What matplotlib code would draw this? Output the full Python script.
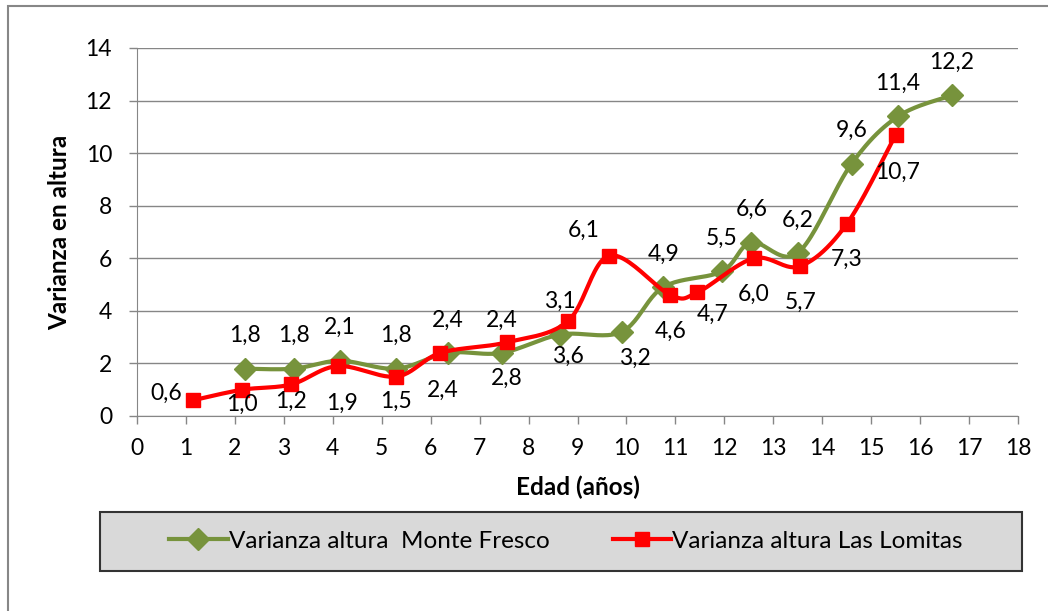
import numpy as np
import matplotlib.pyplot as plt
from matplotlib.lines import Line2D
from matplotlib.patches import Rectangle

plt.rcParams['font.family'] = ['Lato', 'DejaVu Sans']

# Data
edad_mf = [2.2, 3.2, 4.15, 5.3, 6.35, 7.45, 8.65, 9.9, 10.75, 11.95, 12.55, 13.5, 14.6, 15.55, 16.65]
var_mf = [1.8, 1.8, 2.1, 1.8, 2.4, 2.4, 3.1, 3.2, 4.9, 5.5, 6.6, 6.2, 9.6, 11.4, 12.2]
edad_ll = [1.15, 2.15, 3.15, 4.1, 5.3, 6.2, 7.55, 8.8, 9.65, 10.9, 11.45, 12.6, 13.55, 14.5, 15.5]
var_ll = [0.6, 1.0, 1.2, 1.9, 1.5, 2.4, 2.8, 3.6, 6.1, 4.6, 4.7, 6.0, 5.7, 7.3, 10.7]

GREEN = '#77933C'
RED = '#FF0000'
GRID = '#868686'

# label offsets in pixels (dx, dy up)
off_mf = [(0, 33)] * 7 + [(13, -26)] + [(0, 33)] * 7
off_ll = [(-27, 7), (0, -15), (0, -17), (4, -37), (0, -25), (2, -37), (0, -36), (0, -35),
          (-26, 25), (0, -36), (15, -22), (0, -36), (0, -36), (0, -35), (2, -38)]


def smooth(x, y, n=25):
    # Catmull-Rom curve through the points (like Excel's smoothed line)
    pts = np.column_stack([x, y])
    p = np.vstack([pts[0], pts, pts[-1]])
    t = np.linspace(0, 1, n)[:, None]
    segs = []
    for i in range(1, len(p) - 2):
        p0, p1, p2, p3 = p[i - 1], p[i], p[i + 1], p[i + 2]
        segs.append(0.5 * (2 * p1 + (-p0 + p2) * t
                           + (2 * p0 - 5 * p1 + 4 * p2 - p3) * t ** 2
                           + (-p0 + 3 * p1 - 3 * p2 + p3) * t ** 3))
    s = np.vstack(segs)
    return s[:, 0], s[:, 1]


fig = plt.figure(figsize=(10.48, 6.11), dpi=100)
ax = fig.add_axes([137 / 1048, 1 - 416 / 611, (1018 - 137) / 1048, (416 - 48) / 611])

sx, sy = smooth(edad_mf, var_mf)
ax.plot(sx, sy, color=GREEN, lw=3, zorder=3, solid_capstyle='round')
ax.plot(edad_mf, var_mf, ls='none', marker='D', ms=11, color=GREEN, zorder=3)
sx, sy = smooth(edad_ll, var_ll)
ax.plot(sx, sy, color=RED, lw=3, zorder=4, solid_capstyle='round')
ax.plot(edad_ll, var_ll, ls='none', marker='s', ms=10, color=RED, zorder=4)

for xs, ys, offs in [(edad_mf, var_mf, off_mf), (edad_ll, var_ll, off_ll)]:
    for xv, yv, (dx, dy) in zip(xs, ys, offs):
        ax.annotate(f'{yv:.1f}'.replace('.', ','), (xv, yv), xytext=(dx, dy),
                    textcoords='offset pixels', ha='center', va='center',
                    fontsize=16.5, zorder=5)

ax.set_xlim(0, 18)
ax.set_ylim(0, 14)
ax.set_xticks(range(0, 19))
ax.set_yticks(range(0, 15, 2))
ax.tick_params(labelsize=16.5, color=GRID, length=6, width=1)
ax.tick_params(axis='y', pad=12)
ax.tick_params(axis='x', pad=10)
ax.grid(axis='y', color=GRID, lw=1)
ax.set_axisbelow(True)
for s in ['top', 'right']:
    ax.spines[s].set_visible(False)
for s in ['left', 'bottom']:
    ax.spines[s].set_color(GRID)

ax.set_xlabel('Edad (años)', fontsize=17.5, fontweight='bold', labelpad=12)
ax.set_ylabel('Varianza en altura', fontsize=17.5, fontweight='bold', labelpad=10)

# outer chart border
fig.add_artist(Rectangle((8 / 1048, -0.1), 1.2, 1 - 6 / 611 + 0.1, transform=fig.transFigure,
                         fill=False, edgecolor='#878787', lw=1.5))
# legend box
fig.add_artist(Rectangle((100 / 1048, 1 - 571 / 611), (1022 - 100) / 1048, (571 - 512) / 611,
                         transform=fig.transFigure, facecolor='#D9D9D9',
                         edgecolor='#333333', lw=1.5))

handles = [Line2D([], [], color=GREEN, lw=3, marker='D', ms=11),
           Line2D([], [], color=RED, lw=3, marker='s', ms=10)]
fig.legend(handles, ['Varianza altura  Monte Fresco', 'Varianza altura Las Lomitas'],
           loc='center', bbox_to_anchor=(566 / 1048, 1 - 541 / 611), ncol=2,
           frameon=False, fontsize=17.5, handlelength=2.4, handletextpad=0.05,
           columnspacing=2.6, numpoints=1)

fig.savefig('out.png', dpi=100)
